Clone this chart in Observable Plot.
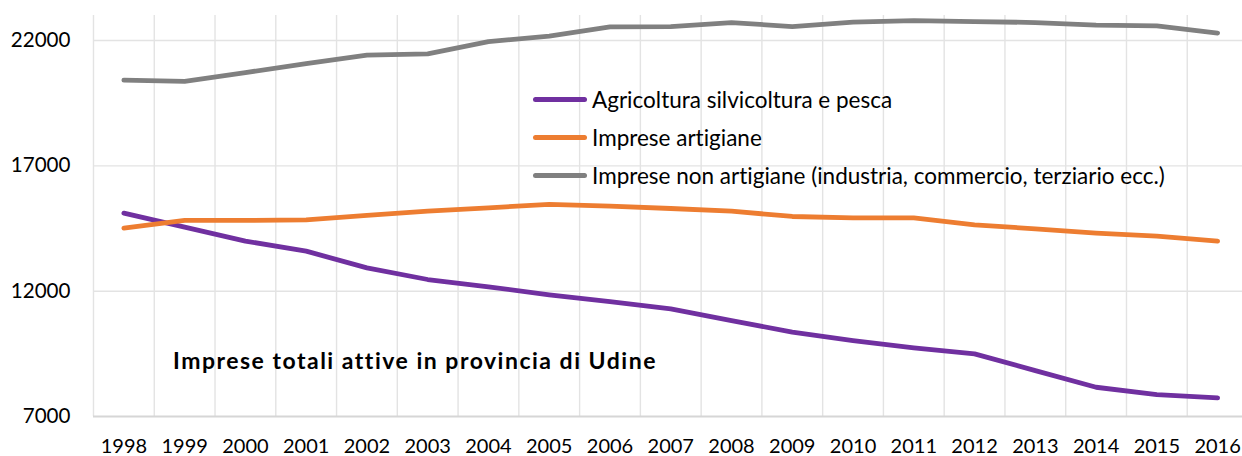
<!DOCTYPE html>
<html>
<head>
<meta charset="utf-8">
<script src="https://cdn.jsdelivr.net/npm/d3@7"></script>
<script src="https://cdn.jsdelivr.net/npm/@observablehq/plot@0.6"></script>
<style>
  html, body { margin: 0; padding: 0; background: #fff; }
  #wrap { position: relative; width: 1242px; height: 456px; font-family: Lato, "Open Sans", sans-serif; color: #000; overflow: hidden; font-variant-ligatures: none; font-feature-settings: "liga" 0; }
  #legend { position: absolute; left: 533px; top: 80px; }
  .row { display: flex; align-items: center; height: 38px; font-size: 22.5px; white-space: nowrap; }
  .sw { width: 54px; height: 5px; border-radius: 3px; margin-right: 5px; }
  #title { position: absolute; left: 173px; top: 348px; font-size: 23px; font-weight: bold; letter-spacing: 1.5px; line-height: 24px; white-space: nowrap; }
</style>
</head>
<body>
<div id="wrap">
  <div id="chart"></div>
  <div id="legend"></div>
  <div id="title"></div>
</div>
<script>
const years = [1998,1999,2000,2001,2002,2003,2004,2005,2006,2007,2008,2009,2010,2011,2012,2013,2014,2015,2016];
const agricoltura = [15115,14556,13997,13597,12932,12466,12173,11854,11587,11295,10829,10363,10030,9737,9498,8832,8167,7874,7741];
const artigiane = [14516,14822,14822,14848,15021,15194,15328,15461,15394,15300,15194,14981,14928,14928,14649,14489,14316,14196,13997];
const nonArtigiane = [20420,20370,20722,21082,21420,21470,21960,22180,22550,22559,22719,22559,22732,22799,22759,22719,22612,22586,22300];
const yTicks = [7000,12000,17000,22000];
const seriesNames = ["Agricoltura silvicoltura e pesca","Imprese artigiane","Imprese non artigiane (industria, commercio, terziario ecc.)"];
const seriesColors = ["#7030A0","#ED7D31","#808080"];
const chartTitle = "Imprese totali attive in provincia di Udine";

const seriesValues = [agricoltura, artigiane, nonArtigiane];
const data = seriesNames.flatMap((name, i) => years.map((yr, j) => ({year: yr, value: seriesValues[i][j], series: name})));
const boundaries = years.map(y => y - 0.5).concat([years[years.length - 1] + 0.5]);

const chart = Plot.plot({
  width: 1242,
  height: 456,
  marginLeft: 93,
  marginRight: -5.5,
  marginTop: 15,
  marginBottom: 40,
  style: {fontFamily: "Lato, 'Open Sans', sans-serif", fontSize: "20px", color: "#000", background: "#fff", overflow: "hidden"},
  x: {type: "linear", domain: [boundaries[0], boundaries[boundaries.length - 1]]},
  y: {domain: [7000, 23000]},
  color: {domain: seriesNames, range: seriesColors},
  marks: [
    Plot.ruleX(boundaries, {stroke: "#e3e3e3", strokeWidth: 1.4}),
    Plot.ruleY(yTicks.slice(1), {stroke: "#e3e3e3", strokeWidth: 1.4}),
    Plot.ruleY([yTicks[0]], {stroke: "#d6d6d6", strokeWidth: 2}),
    Plot.axisX({ticks: years, tickFormat: d => String(d), tickSize: 0, tickPadding: 22, fontSize: 20, label: null}),
    Plot.axisY({ticks: yTicks, tickFormat: d => String(d), tickSize: 0, tickPadding: 23, fontSize: 20.6, label: null}),
    Plot.line(data, {x: "year", y: "value", z: "series", stroke: "series", strokeWidth: 4.8, strokeLinecap: "round", strokeLinejoin: "round"})
  ]
});
document.getElementById("chart").appendChild(chart);

const legend = document.getElementById("legend");
seriesNames.forEach((name, i) => {
  const row = document.createElement("div");
  row.className = "row";
  const sw = document.createElement("div");
  sw.className = "sw";
  sw.style.background = seriesColors[i];
  const tx = document.createElement("span");
  tx.textContent = name;
  row.appendChild(sw);
  row.appendChild(tx);
  legend.appendChild(row);
});
document.getElementById("title").textContent = chartTitle;
</script>
</body>
</html>
